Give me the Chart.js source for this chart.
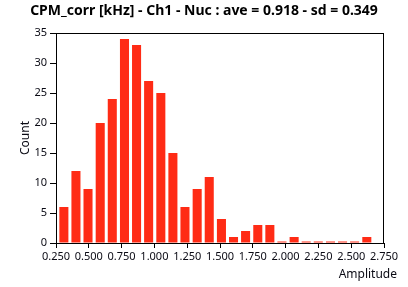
<!DOCTYPE html>
<html>
<head>
<meta charset="utf-8">
<script src="https://cdn.jsdelivr.net/npm/chart.js@4/dist/chart.umd.min.js"></script>
<style>
  html, body { margin: 0; padding: 0; background: #fff; }
  #wrap { width: 408px; height: 287px; position: relative; }
</style>
</head>
<body>
<div id="wrap"><canvas id="c" width="408" height="287"></canvas></div>
<script>
const titleText = "CPM_corr [kHz] - Ch1 - Nuc : ave = 0.918 - sd = 0.349";
const xTitle = "Amplitude";
const yTitle = "Count";
const binCenters = [0.310, 0.402, 0.494, 0.587, 0.679, 0.772, 0.864, 0.956, 1.049, 1.141,
                    1.233, 1.326, 1.418, 1.511, 1.603, 1.695, 1.788, 1.880, 1.972, 2.065,
                    2.157, 2.249, 2.342, 2.434, 2.526, 2.619];
const counts = [6, 12, 9, 20, 24, 34, 33, 27, 25, 15,
                6, 9, 11, 4, 1, 2, 3, 3, 0, 1,
                0, 0, 0, 0, 0, 1];
const xTicks = [0.25, 0.5, 0.75, 1.0, 1.25, 1.5, 1.75, 2.0, 2.25, 2.5, 2.75];
const yTicks = [0, 5, 10, 15, 20, 25, 30, 35];

const FONT = "'Noto Sans', 'Open Sans', sans-serif";
const TXT = '#0a0a14';

const framePlugin = {
  id: 'frame',
  afterDraw(chart) {
    const {ctx, chartArea: a} = chart;
    ctx.save();
    ctx.strokeStyle = '#000';
    ctx.lineWidth = 1;
    ctx.strokeRect(Math.round(a.left) + 0.5, Math.round(a.top) + 0.5,
                   Math.round(a.right - a.left) - 1, Math.round(a.bottom - a.top));
    ctx.fillStyle = TXT;
    ctx.font = "12px " + FONT;
    ctx.textAlign = 'right';
    ctx.textBaseline = 'middle';
    ctx.fillText(xTitle, a.right + 13, 275);
    ctx.restore();
  }
};

new Chart(document.getElementById('c'), {
  type: 'bar',
  data: {
    datasets: [{
      data: binCenters.map((x, i) => ({x: x, y: counts[i]})),
      backgroundColor: '#ff2b15',
      borderWidth: 0,
      barPercentage: 1.0,
      categoryPercentage: 0.75,
      minBarLength: 1.5
    }]
  },
  options: {
    responsive: false,
    animation: false,
    events: [],
    layout: { padding: { left: 0, right: 0, top: 0, bottom: 0 } },
    plugins: {
      legend: { display: false },
      tooltip: { enabled: false },
      title: {
        display: true,
        text: titleText,
        color: '#000',
        font: { family: FONT, size: 14, weight: 'bold' },
        padding: { top: 3, bottom: 13.2 }
      }
    },
    scales: {
      x: {
        type: 'linear',
        min: 0.25, max: 2.75,
        offset: false,
        afterBuildTicks(scale) { scale.ticks = xTicks.map(v => ({value: v})); },
        afterFit(scale) { scale.height = 44; },
        grid: { display: true, drawOnChartArea: false, drawTicks: true, tickLength: 5, color: '#000', offset: false },
        border: { display: true, color: '#000', width: 1 },
        ticks: {
          autoSkip: false, maxRotation: 0, padding: 2,
          color: TXT, font: { family: FONT, size: 11 },
          callback: v => Number(v).toFixed(3)
        }
      },
      y: {
        min: 0, max: 35,
        afterBuildTicks(scale) { scale.ticks = yTicks.map(v => ({value: v})); },
        afterFit(scale) { scale.width = 56; },
        grid: { display: true, drawOnChartArea: false, drawTicks: true, tickLength: 6, color: '#000' },
        border: { display: true, color: '#000', width: 1 },
        ticks: { padding: 3, color: TXT, font: { family: FONT, size: 11 } },
        title: { display: true, text: yTitle, color: TXT, font: { family: FONT, size: 12 }, padding: { top: 18, bottom: 0 } }
      },
      yR: {
        position: 'right',
        display: true,
        afterFit(scale) { scale.width = 24; },
        grid: { display: false },
        border: { display: false },
        ticks: { display: false }
      }
    }
  },
  plugins: [framePlugin]
});
</script>
</body>
</html>
